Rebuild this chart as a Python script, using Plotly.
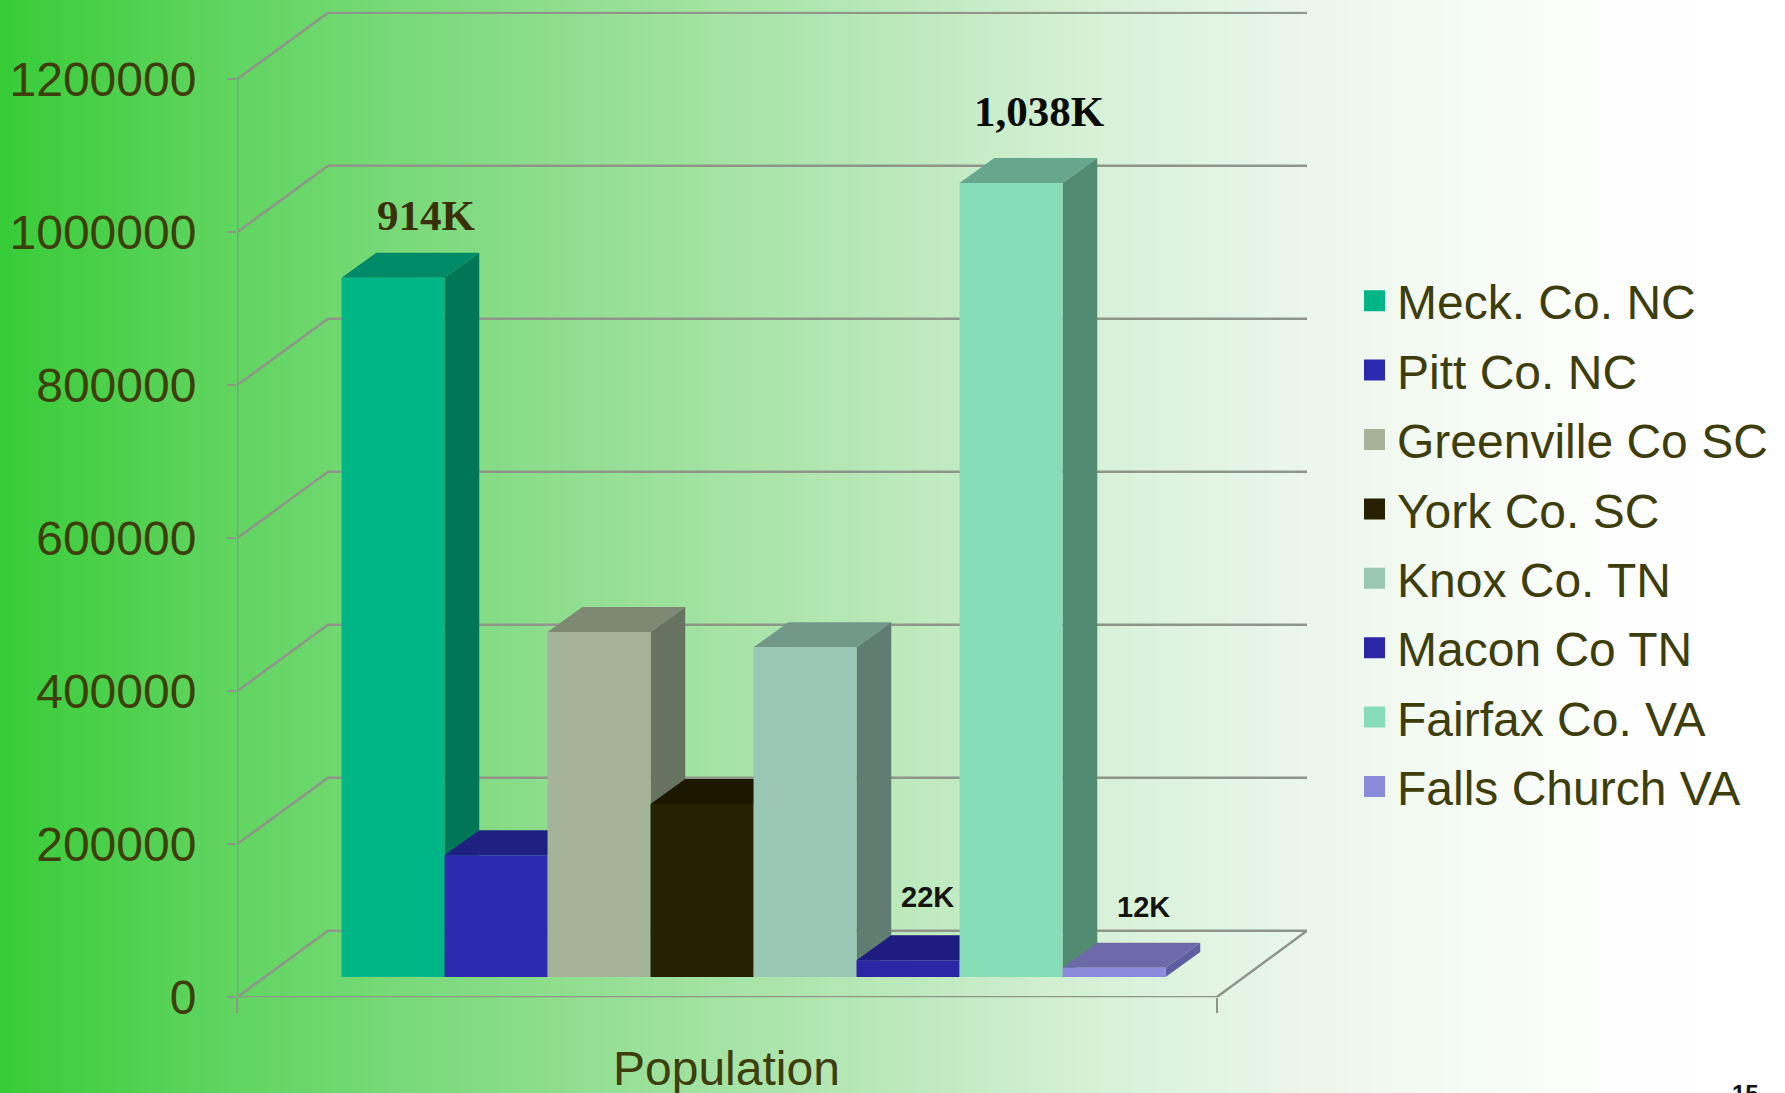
import plotly.graph_objects as go

# ---- data ----
categories = ["Meck. Co. NC", "Pitt Co. NC", "Greenville Co SC", "York Co. SC",
              "Knox Co. TN", "Macon Co TN", "Fairfax Co. VA", "Falls Church VA"]
population = [914000, 159000, 451000, 226000, 431000, 22000, 1038000, 12000]
y_ticks = [0, 200000, 400000, 600000, 800000, 1000000, 1200000]
axis_label = "Population"

front_colors = ["#00B586", "#2C2BB0", "#A5B498", "#262100", "#99C7B3", "#2A26A6", "#86DDB8", "#8B8BDC"]
side_colors = ["#007658", "#1B1A70", "#687260", "#181500", "#607D71", "#1B1A70", "#538A72", "#5E5EA0"]
top_colors = ["#008A68", "#202080", "#7F8872", "#1C1800", "#72988A", "#1E1C80", "#66A78D", "#6C6AA8"]

value_labels = {0: ("914K", "Liberation Serif", 43, True, "#3A3008", 33, 62),
                6: ("1,038K", "Liberation Serif", 43, True, "#0A0A05", 28, 71),
                5: ("22K", "Liberation Sans", 29, True, "#151510", 19, 63),
                7: ("12K", "Liberation Sans", 29, True, "#151510", 29, 61)}

# ---- geometry of the pseudo 3-D plot, px per unit ----
W, H = 1785, 1093
PX_X, PX_Y = 103.0, 0.000765           # px per slot / px per person
AX_L, AX_R, AX_B, AX_T = 237, 1307, 997.3, 11.7
FLOOR_W = 9.51
WALL_DX, WALL_DY = 91 / PX_X, 66.5 / PX_Y
BAR_X0, BAR_BASE = 1.015, 20.3 / PX_Y
BAR_DX, BAR_DY = 34.7 / PX_X, 25 / PX_Y
GRID = "#8F9589"
TXT = "#3E3E0C"

fig = go.Figure()


def poly(xs, ys, color):
    fig.add_trace(go.Scatter(x=xs, y=ys, mode="lines", fill="toself", fillcolor=color,
                             line=dict(width=0, color=color), hoverinfo="skip", showlegend=False))


def line(xs, ys):
    fig.add_trace(go.Scatter(x=xs, y=ys, mode="lines", line=dict(color=GRID, width=2.5),
                             hoverinfo="skip", showlegend=False))


x_end = (AX_R - AX_L) / PX_X
for v in y_ticks[1:]:
    line([0, WALL_DX, x_end], [v, v + WALL_DY, v + WALL_DY])
line([0, WALL_DX, x_end, FLOOR_W, 0], [0, WALL_DY, WALL_DY, 0, 0])
line([0, 0], [0, y_ticks[-1]])

for i, v in enumerate(population):
    x0, x1 = BAR_X0 + i, BAR_X0 + i + 1
    b, t = BAR_BASE, BAR_BASE + v
    poly([x1, x1 + BAR_DX, x1 + BAR_DX, x1, x1], [b, b + BAR_DY, t + BAR_DY, t, b], side_colors[i])
    poly([x0, x1, x1 + BAR_DX, x0 + BAR_DX, x0], [t, t, t + BAR_DY, t + BAR_DY, t], top_colors[i])
    poly([x0, x1, x1, x0, x0], [b, b, t, t, b], front_colors[i])

for i, name in enumerate(categories):
    fig.add_trace(go.Scatter(x=[None], y=[None], mode="markers", name=name, legendgroup=name,
                             marker=dict(symbol="square", size=16, color=front_colors[i],
                                         line=dict(width=5, color=front_colors[i]))))

annotations = []
for i, (txt, fam, size, bold, col, dx, dy) in value_labels.items():
    annotations.append(dict(x=BAR_X0 + i + 0.5, y=BAR_BASE + population[i], xref="x", yref="y",
                            text=f"<b>{txt}</b>" if bold else txt, showarrow=False,
                            font=dict(family=fam, size=size, color=col),
                            xshift=dx, yshift=dy, yanchor="middle", xanchor="center"))
annotations.append(dict(x=FLOOR_W / 2, y=1 - 1040 / H, xref="x", yref="paper", text=axis_label,
                        showarrow=False, yanchor="top", xanchor="center",
                        font=dict(family="Liberation Sans", size=48, color=TXT)))
annotations.append(dict(x=1745 / W, y=1 - 1078 / H, xref="paper", yref="paper", text="<b>15</b>",
                        showarrow=False, yanchor="top", xanchor="center",
                        font=dict(family="Liberation Sans", size=24, color="#111111")))

# background gradient, painted left to right
stops_px = [0, 200, 600, 900, 1100, 1350, 1600, 1785]
stops_rb = [56, 92, 149, 188, 216, 238, 253, 255]
stops_g = [204, 212, 223, 233, 241, 248, 254, 255]
shapes = []
for px in range(0, W, 4):
    for k in range(len(stops_px) - 1):
        if stops_px[k] <= px <= stops_px[k + 1]:
            f = (px - stops_px[k]) / (stops_px[k + 1] - stops_px[k])
            rb = stops_rb[k] + (stops_rb[k + 1] - stops_rb[k]) * f
            g = stops_g[k] + (stops_g[k + 1] - stops_g[k]) * f
            break
    shapes.append(dict(type="rect", xref="paper", yref="paper", x0=px / W, x1=1, y0=0, y1=1,
                       fillcolor=f"rgb({rb:.0f},{g:.0f},{rb:.0f})", line=dict(width=0), layer="below"))

fig.update_layout(
    width=W, height=H, margin=dict(l=0, r=0, t=0, b=0, pad=0, autoexpand=False), autosize=False,
    paper_bgcolor="white", plot_bgcolor="rgba(0,0,0,0)", shapes=shapes, annotations=annotations,
    showlegend=True,
    legend=dict(x=1352 / W, y=1 - 263 / H, xanchor="left", yanchor="top", bgcolor="rgba(0,0,0,0)",
                tracegroupgap=4, itemwidth=35, traceorder="grouped",
                font=dict(family="Liberation Sans", size=48, color=TXT)),
    xaxis=dict(domain=[AX_L / W, AX_R / W], range=[0, x_end], showgrid=False, zeroline=False,
               showline=False, tickvals=[0, FLOOR_W], ticktext=["", ""], ticks="outside",
               ticklen=15, tickwidth=2, tickcolor=GRID),
    yaxis=dict(domain=[1 - AX_B / H, 1 - AX_T / H], range=[0, (AX_B - AX_T) / PX_Y], showgrid=False,
               zeroline=False, showline=False, tickvals=y_ticks, ticktext=[str(v) for v in y_ticks],
               ticks="outside", ticklen=9, tickwidth=2, tickcolor=GRID, ticklabelstandoff=21,
               tickfont=dict(family="Liberation Sans", size=48, color=TXT)),
)

fig.write_html("out.html", config=dict(displayModeBar=False),
               post_script="document.body.style.margin='0';document.body.style.overflow='hidden';")
